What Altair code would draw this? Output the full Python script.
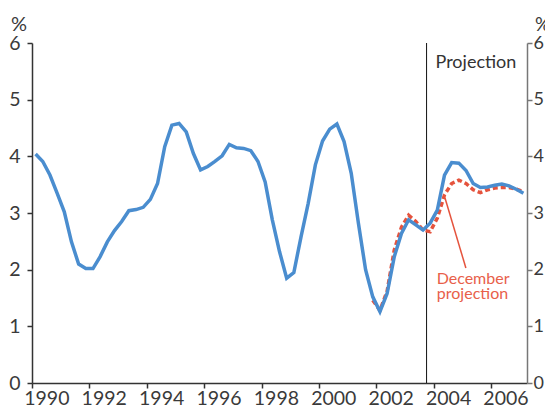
import altair as alt
import pandas as pd

# Quarterly observations, 1990 Q1 .. 2007 Q1 (plotted at mid-quarter)
n_quarters = 69
quarter_pos = [1990.125 + 0.25 * i for i in range(n_quarters)]

actual = [
    4.04, 3.91, 3.67, 3.35, 3.02, 2.49, 2.10, 2.02, 2.02, 2.23,
    2.49, 2.69, 2.85, 3.04, 3.06, 3.10, 3.24, 3.52, 4.17, 4.55,
    4.58, 4.43, 4.05, 3.76, 3.82, 3.91, 4.01, 4.21, 4.15, 4.14,
    4.10, 3.91, 3.55, 2.88, 2.32, 1.85, 1.95, 2.58, 3.17, 3.85,
    4.27, 4.48, 4.57, 4.26, 3.70, 2.82, 2.00, 1.52, 1.26, 1.58,
    2.23, 2.64, 2.88, 2.79, 2.70, 2.82, 3.05, 3.67, 3.89, 3.88,
    3.75, 3.52, 3.45, 3.46, 3.49, 3.51, 3.48, 3.42, 3.35,
]

dec_start = 47
december = [
    1.46, 1.28, 1.62, 2.35, 2.75, 2.96, 2.85, 2.70, 2.67, 2.91,
    3.32, 3.52, 3.58, 3.52, 3.41, 3.36, 3.41, 3.44, 3.45, 3.45,
    3.42, 3.38,
]

year_ticks = list(range(1990, 2008))
y_ticks = [0, 1, 2, 3, 4, 5, 6]
projection_start = [2003.75]

note_text = ["Projection", "December", "projection"]
note_x = [2005.47, 2005.37, 2005.35]
note_y = [5.56, 1.74, 1.48]
note_color = ["#333333", "#e8604a", "#e8604a"]
note_size = [18, 16, 16]

pointer = {"x": [2004.39], "y": [3.27], "x2": [2005.12], "y2": [2.03]}

FONT = "Lato"
BLUE = "#4a8dcf"
RED = "#e5533d"
TXT = "#3a3a3a"

df_a = pd.DataFrame({"t": quarter_pos, "v": actual})
df_d = pd.DataFrame({"t": quarter_pos[dec_start:dec_start + len(december)], "v": december})
df_p = pd.DataFrame({"t": projection_start})
df_n = pd.DataFrame({"t": note_x, "v": note_y, "label": note_text, "c": note_color, "s": note_size})
df_ptr = pd.DataFrame(pointer)

xscale = alt.Scale(domain=[1990, 2007.25], nice=False, zero=False)
yscale = alt.Scale(domain=[0, 6], nice=False, zero=True)

x_axis = alt.Axis(
    values=year_ticks,
    labelExpr="datum.value % 2 == 0 ? format(datum.value, 'd') : ''",
    labelOffset=14.35,
    labelAlign="center",
    labelOverlap=False,
    labelFlush=False,
    labelPadding=1,
    tickSize=5,
    title=None,
    grid=False,
    domainColor="#333333",
    tickColor="#333333",
)

left_axis = alt.Axis(
    values=y_ticks, orient="left", grid=False, tickSize=5, labelPadding=7,
    title="%", titleAngle=0, titleAlign="center", titleBaseline="alphabetic",
    titleX=-13.5, titleY=-13, titleFontSize=20, titleFontWeight="normal", titleColor=TXT,
    domainColor="#333333", tickColor="#333333",
)
right_axis = alt.Axis(
    values=y_ticks, orient="right", grid=False, tickSize=5, labelPadding=1,
    labelFontSize=18,
    title="%", titleAngle=0, titleAlign="center", titleBaseline="alphabetic",
    titleX=15, titleY=-13, titleFontSize=19, titleFontWeight="normal", titleColor=TXT,
    domainColor="#777777", tickColor="#777777",
)

proj_rule = alt.Chart(df_p).mark_rule(color="#111111", strokeWidth=1).encode(
    x=alt.X("t:Q", scale=xscale, axis=x_axis)
)

dec_line = alt.Chart(df_d).mark_line(
    color=RED, strokeWidth=3.5, strokeDash=[5, 3]
).encode(
    x=alt.X("t:Q", scale=xscale),
    y=alt.Y("v:Q", scale=yscale, axis=right_axis),
)

act_line = alt.Chart(df_a).mark_line(color=BLUE, strokeWidth=3.5).encode(
    x=alt.X("t:Q", scale=xscale),
    y=alt.Y("v:Q", scale=yscale, axis=left_axis),
)

ptr = alt.Chart(df_ptr).mark_rule(color=RED, strokeWidth=1.5).encode(
    x=alt.X("x:Q", scale=xscale),
    y=alt.Y("y:Q", scale=yscale, axis=None),
    x2="x2:Q",
    y2="y2:Q",
)

notes = alt.Chart(df_n).mark_text(
    font=FONT, align="center", baseline="alphabetic"
).encode(
    x=alt.X("t:Q", scale=xscale),
    y=alt.Y("v:Q", scale=yscale, axis=None),
    text="label:N",
    color=alt.Color("c:N", scale=None),
    size=alt.Size("s:Q", scale=None),
)

chart = alt.layer(proj_rule, dec_line, act_line, ptr, notes).resolve_scale(
    y="independent"
).properties(
    width=495,
    height=340,
    autosize=alt.AutoSizeParams(type="none"),
    padding={"left": 24, "top": 35, "right": 18, "bottom": 24},
).configure_view(stroke=None).configure_axis(
    labelFont=FONT, labelFontSize=19.5, labelColor=TXT,
    titleFont=FONT, domainWidth=1.5, tickWidth=1.5,
)

chart.save("out.html", embed_options={"renderer": "svg", "actions": False})
